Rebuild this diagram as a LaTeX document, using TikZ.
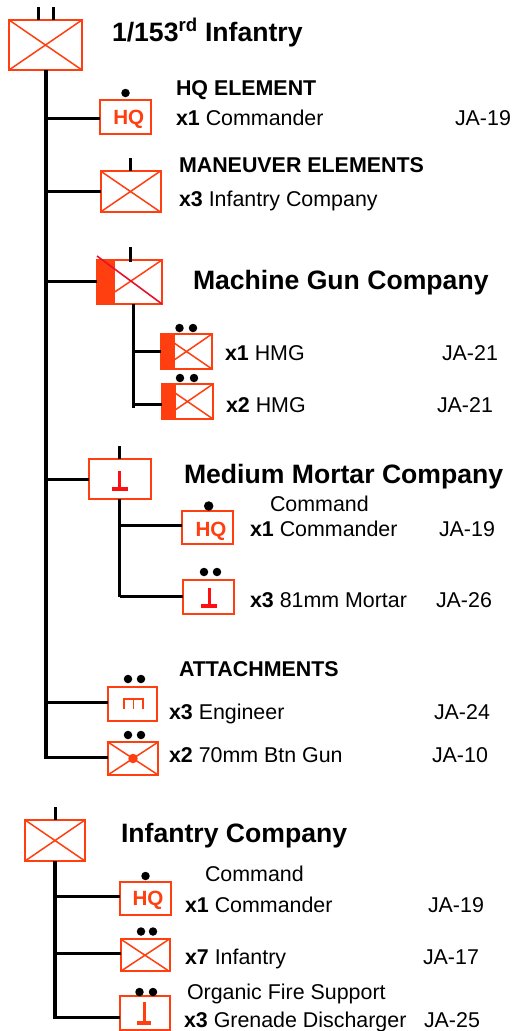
\documentclass[tikz,border=0pt]{standalone}
\usepackage{fontspec}
\setmainfont{Liberation Sans}
\definecolor{unitor}{HTML}{FF3F0F}
\definecolor{unitred}{HTML}{FF1010}
\definecolor{diagred}{HTML}{E8102A}
\tikzset{
 unitbox/.style={draw=unitor,line width=2pt,fill=white,inner sep=0pt,outer sep=0pt,rectangle},
 crossline/.style={draw=unitor,line width=1.5pt},
 fillbar/.style={fill=unitor,draw=none},
 trunk/.style={line width=4pt,black},
 branch/.style={line width=3pt,black},
 tick/.style={line width=3pt,black},
 echdot/.style={circle,fill=black,inner sep=0pt,minimum size=8.5pt,outer sep=0pt},
 txt/.style={anchor=base west,inner sep=0pt,outer sep=0pt,font=\fontsize{21.4}{24}\selectfont},
 headtxt/.style={txt,font=\fontsize{21.4}{24}\selectfont\bfseries},
 bigtxt/.style={anchor=base west,inner sep=0pt,outer sep=0pt,font=\fontsize{26.6}{30}\selectfont\bfseries},
 hqtxt/.style={anchor=base,inner sep=0pt,outer sep=0pt,text=unitor,font=\fontsize{20.6}{22}\selectfont\bfseries},
}
\newcommand{\crossbox}[1]{\draw[crossline] (#1.north west) -- (#1.south east) (#1.north east) -- (#1.south west);}
\begin{document}
\begin{tikzpicture}[x=1pt,y=-1pt]
\useasboundingbox (0,0) rectangle (512,1031);
% boxes
\node[unitbox,minimum width=73pt,minimum height=50pt] (top) at (45.5,45) {};
\node[unitbox,minimum width=50.5pt,minimum height=34pt] (hqa) at (125.5,117) {};
\node[unitbox,minimum width=60pt,minimum height=41pt] (man) at (130.5,191.5) {};
\node[unitbox,minimum width=65pt,minimum height=44pt] (mg) at (129.5,282) {};
\node[unitbox,minimum width=51pt,minimum height=35pt] (hmga) at (186.5,351.5) {};
\node[unitbox,minimum width=51pt,minimum height=35pt] (hmgb) at (187.5,401.5) {};
\node[unitbox,minimum width=62pt,minimum height=40pt] (mor) at (119.5,479) {};
\node[unitbox,minimum width=50.5pt,minimum height=33.5pt] (hqb) at (207.7,527.7) {};
\node[unitbox,minimum width=51pt,minimum height=34pt] (morb) at (208.5,597) {};
\node[unitbox,minimum width=49pt,minimum height=34pt] (eng) at (132.5,704) {};
\node[unitbox,minimum width=50.5pt,minimum height=33pt] (gun) at (133,758.5) {};
\node[unitbox,minimum width=60pt,minimum height=41pt] (coy) at (55,840.5) {};
\node[unitbox,minimum width=50.5pt,minimum height=33pt] (hqc) at (145.5,898.5) {};
\node[unitbox,minimum width=49pt,minimum height=32.4pt] (inf) at (145,955.2) {};
\node[unitbox,minimum width=50pt,minimum height=34pt] (morc) at (144.5,1013) {};
% crosses
\crossbox{top}\crossbox{man}\crossbox{coy}\crossbox{inf}\crossbox{gun}
\crossbox{hmga}\crossbox{hmgb}
\draw[crossline] (mg.north east) -- (mg.south west);
% filled bars
\fill[fillbar] ([xshift=-1pt,yshift=1pt]mg.north west) rectangle ([xshift=18pt,yshift=-1pt]mg.south west);
\fill[fillbar] ([shift={(-1pt,1pt)}]hmga.north west) rectangle ([xshift=14pt,yshift=-1pt]hmga.south west);
\fill[fillbar] ([shift={(-1pt,1pt)}]hmgb.north west) rectangle ([xshift=14pt,yshift=-1pt]hmgb.south west);
\draw[diagred,line width=1.6pt] ([shift={(0pt,4pt)}]mg.north west) -- (mg.south east);
% gun dot
\node[circle,fill=unitor,inner sep=0pt,minimum size=9.5pt] (gundot) at (gun.center) {};
% trunks
\draw[trunk] (top.south) -- (top.south |- gun.west);
\coordinate (mgs) at ([xshift=3.5pt]mg.south);
\coordinate (mge) at ([yshift=-6.5pt]mgs |- hmgb.west);
\draw[branch] (mgs) -- (mge);
\coordinate (mbe) at ([yshift=0.5pt]mor.south |- morb.west);
\draw[branch] (mor.south) -- (mbe);
\coordinate (cye) at ([yshift=-5.5pt]coy.south |- morc.west);
\draw[branch,line width=3.4pt] (coy.south) -- (cye);
% branches
\draw[branch] ([yshift=-1.5pt]top.south |- hqa.west) -- ([yshift=-1.5pt]hqa.west);
\draw[branch] (top.south |- man.west) -- (man.west);
\draw[branch] ([xshift=-2pt,yshift=1pt]top.south |- mg.west) -- ([yshift=1pt]mg.west);
\draw[branch] ([xshift=-2pt]top.south |- mor.west) -- (mor.west);
\draw[branch] ([yshift=1.5pt]top.south |- eng.west) -- ([yshift=1.5pt]eng.west);
\draw[branch] ([yshift=1.5pt]top.south |- gun.west) -- ([yshift=1.5pt]gun.west);
\draw[branch] (mgs |- hmga.west) -- (hmga.west);
\draw[branch] ([yshift=-2.5pt]mgs |- hmgb.west) -- ([yshift=-2.5pt]hmgb.west);
\draw[branch] ([yshift=2.2pt]mor.south |- hqb.west) -- ([yshift=2.2pt]hqb.west);
\draw[branch] ([yshift=1pt]mor.south |- morb.west) -- ([yshift=1pt]morb.west);
\draw[branch] ([yshift=2.5pt]coy.south |- hqc.west) -- ([yshift=2.5pt]hqc.west);
\draw[branch] ([yshift=2pt]coy.south |- inf.west) -- ([yshift=2pt]inf.west);
\draw[branch] ([yshift=-4pt]coy.south |- morc.west) -- ([yshift=-4pt]morc.west);
% ticks
\draw[tick] ([xshift=-7.5pt]top.north) -- ++(0,13pt);
\draw[tick] ([xshift=7.5pt]top.north) -- ++(0,13pt);
\draw[tick] (man.north) -- ++(0,13pt);
\draw[tick] ([xshift=.5pt,yshift=-2pt]mg.north) -- ++(0,15pt);
\draw[tick] (mor.north) -- ++(0,13pt);
\draw[tick] ([xshift=.5pt]coy.north) -- ++(0,13pt);
% echelon dots
\node[echdot] (d1) at (125.5,93) {};
\node[echdot] (d2) at (179.5,328) {};
\node[echdot] (d3) at (193,328) {};
\node[echdot] (d4) at (180,378) {};
\node[echdot] (d5) at (194,378) {};
\node[echdot,minimum size=9.5pt] (d6) at (208.7,506) {};
\node[echdot] (d7) at (204,572) {};
\node[echdot] (d8) at (217,572) {};
\node[echdot] (d9) at (128,679) {};
\node[echdot] (d10) at (141,679) {};
\node[echdot] (d11) at (128,735) {};
\node[echdot] (d12) at (141,735) {};
\node[echdot] (d13) at (145.5,876) {};
\node[echdot] (d14) at (141,931.5) {};
\node[echdot] (d15) at (153,931.5) {};
\node[echdot] (d16) at (139.5,992) {};
\node[echdot] (d17) at (153,992) {};
% HQ
\node[hqtxt] (hqta) at (128.7,124.5) {HQ};
\node[hqtxt] (hqtb) at (211,536) {HQ};
\node[hqtxt] (hqtc) at (148,905) {HQ};
% mortar signs
\draw[unitred,line width=3pt] (119.5,471) -- (119.5,489);
\draw[unitred,line width=3.4pt] (112,489) -- (127.5,489);
\draw[unitred,line width=3pt] (209,588) -- (209,606);
\draw[unitred,line width=3.4pt] (201,606) -- (217,606);
\draw[unitor,line width=3pt] (144,1002) -- (144,1023);
\draw[unitor,line width=3.4pt] (137,1023) -- (151,1023);
% engineer sign
\draw[unitor,line width=1.8pt] (124,709) -- (124,699) -- (143,699) -- (143,709) (133.5,699) -- (133.5,709);
% texts
\node[bigtxt] (t1) at (112,41) {1/153\textsuperscript{rd} Infantry};
\node[headtxt] (t2) at (176,95) {HQ ELEMENT};
\node[txt] (t3) at (176,125) {\textbf{x1} Commander};
\node[txt] (t4) at (455,125) {JA-19};
\node[headtxt] (t5) at (179,172) {MANEUVER ELEMENTS};
\node[txt] (t6) at (179,206) {\textbf{x3} Infantry Company};
\node[bigtxt] (t7) at (193,289) {Machine Gun Company};
\node[txt] (t8) at (225,360) {\textbf{x1} HMG};
\node[txt] (t9) at (442,360) {JA-21};
\node[txt] (t10) at (226,412) {\textbf{x2} HMG};
\node[txt] (t11) at (437,412) {JA-21};
\node[bigtxt] (t12) at (184,483) {Medium Mortar Company};
\node[txt] (t13) at (270,511) {Command};
\node[txt] (t14) at (250,536) {\textbf{x1} Commander};
\node[txt] (t15) at (439,536) {JA-19};
\node[txt] (t16) at (250,607) {\textbf{x3} 81mm Mortar};
\node[txt] (t17) at (436,607) {JA-26};
\node[headtxt] (t18) at (179,676) {ATTACHMENTS};
\node[txt] (t19) at (169,719) {\textbf{x3} Engineer};
\node[txt] (t20) at (434,719) {JA-24};
\node[txt] (t21) at (169,762) {\textbf{x2} 70mm Btn Gun};
\node[txt] (t22) at (432,762) {JA-10};
\node[bigtxt] (t23) at (121,842) {Infantry Company};
\node[txt] (t24) at (205,881) {Command};
\node[txt] (t25) at (185,912) {\textbf{x1} Commander};
\node[txt] (t26) at (428,912) {JA-19};
\node[txt] (t27) at (185,964) {\textbf{x7} Infantry};
\node[txt] (t28) at (423,964) {JA-17};
\node[txt] (t29) at (187,999) {Organic Fire Support};
\node[txt] (t30) at (184,1027) {\textbf{x3} Grenade Discharger};
\node[txt] (t31) at (424,1027) {JA-25};
\end{tikzpicture}
\end{document}
